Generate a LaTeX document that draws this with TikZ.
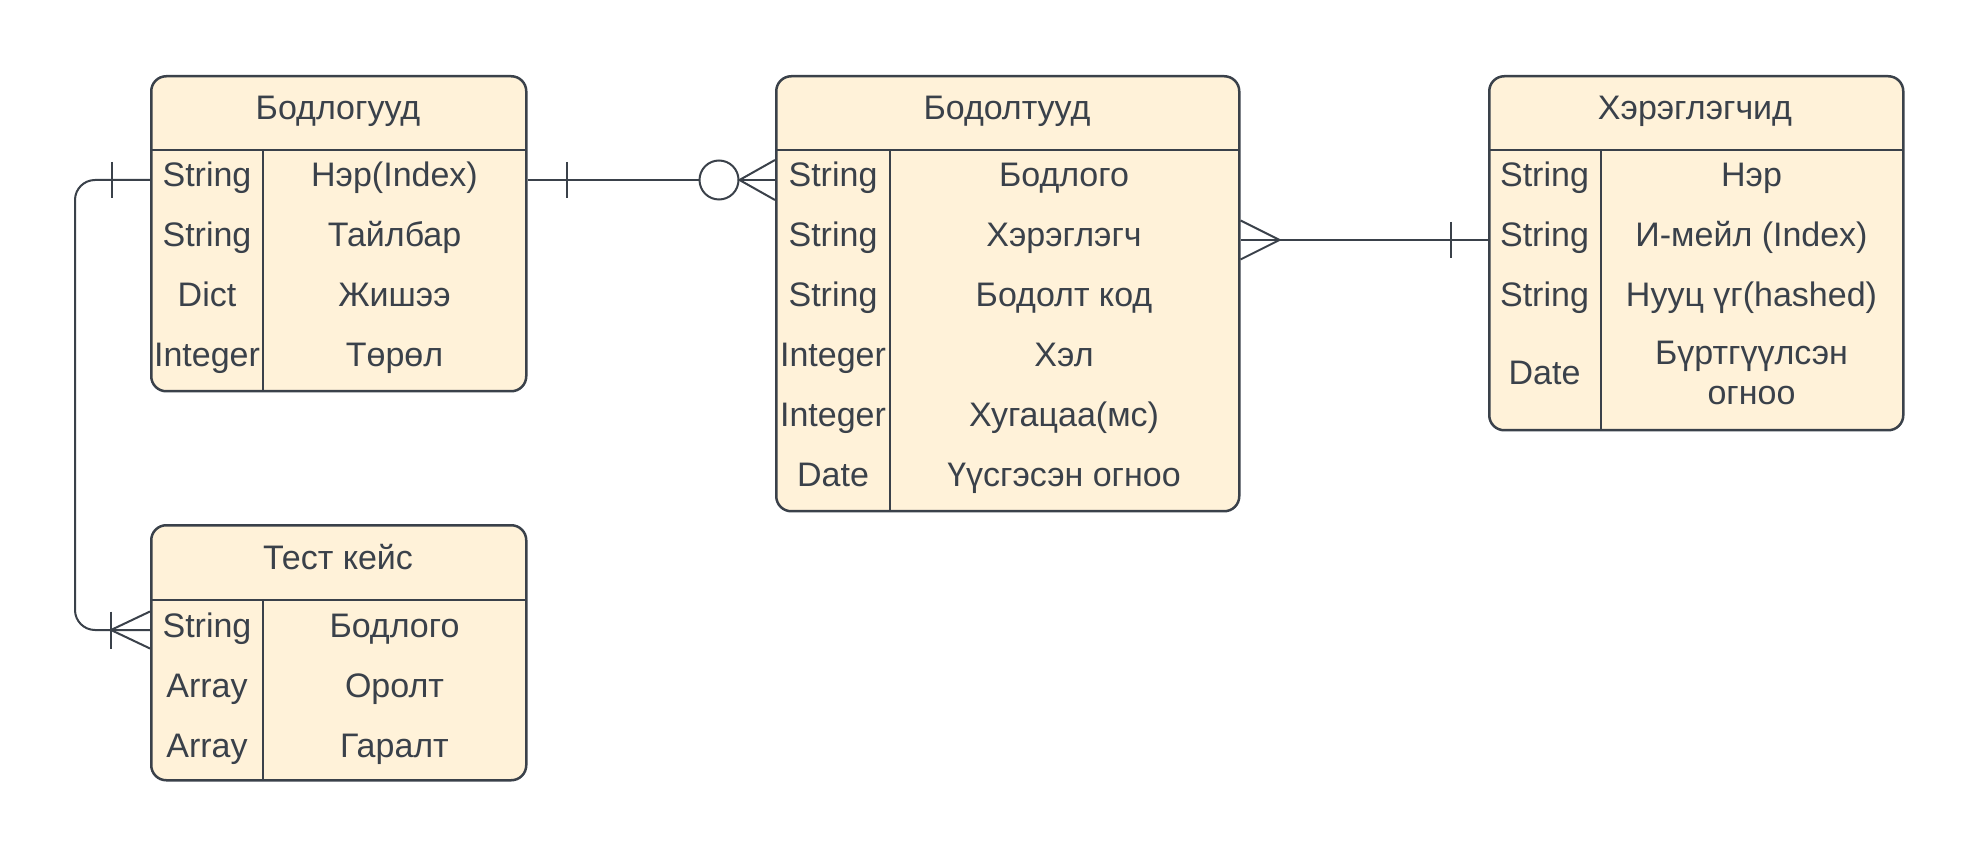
\documentclass[tikz,border=0pt]{standalone}
\usepackage{fontspec}
\setmainfont{Liberation Sans}
\definecolor{erdline}{HTML}{3A414A}
\definecolor{erdfill}{HTML}{FFF2D9}
\newcommand{\erdfont}{\fontsize{17pt}{20pt}\selectfont}
\begin{document}
\begin{tikzpicture}%
	[x=0.5pt, y=-0.5pt,
	entity/.style={draw=erdline, fill=erdfill, line width=1.25pt, rounded corners=7.5pt, inner sep=0pt, anchor=north west},
	headrule/.style={draw=erdline, line width=1.25pt},
	colrule/.style={draw=erdline, line width=0.6pt},
	entityname/.style={text=erdline, inner sep=0pt, anchor=base, font=\erdfont},
	field/.style={text=erdline, inner sep=0pt, text height=11.5pt, text depth=4.5pt, font=\erdfont},
	link/.style={draw=erdline, line width=1pt},
	zerocirc/.style={circle, draw=erdline, fill=white, line width=1pt, minimum size=19.5pt, inner sep=0pt}]
\useasboundingbox (0,0) rectangle (1976,855);
%%
%% Drawing the entities
%%
\node[entity, minimum width=187.5pt, minimum height=157.5pt] (bodlog) at (150,75) {};
\node[entity, minimum width=231.5pt, minimum height=217.5pt] (bodolt) at (775,75) {};
\node[entity, minimum width=207pt, minimum height=177pt] (hereglegch) at (1488,75) {};
\node[entity, minimum width=187.5pt, minimum height=127.5pt] (testkeis) at (150,524) {};
%%
%% Drawing the rules inside
%%
\draw[headrule] (150,150) -- (525,150);
\draw[colrule] (263,150) -- (263,390);
\draw[headrule] (775,150) -- (1238,150);
\draw[colrule] (890,150) -- (890,510);
\draw[headrule] (1488,150) -- (1902,150);
\draw[colrule] (1601,150) -- (1601,429);
\draw[headrule] (150,600) -- (525,600);
\draw[colrule] (263,600) -- (263,779);
%%
%% Бодлогууд
%%
\node[entityname] (bodlogname) at (338,120) {Бодлогууд};
\foreach \t/\n [count=\i] in {String/Нэр(Index), String/Тайлбар, Dict/Жишээ, Integer/Төрөл} {
	\node[field] (bty\i) at (207,120+60*\i) {\t};
	\node[field] (bnm\i) at (394.5,120+60*\i) {\n};
}
%%
%% Бодолтууд
%%
\node[entityname] (bodoltname) at (1007,120) {Бодолтууд};
\foreach \t/\n [count=\i] in {String/Бодлого, String/Хэрэглэгч, String/Бодолт код, Integer/Хэл, Integer/Хугацаа(мс), Date/Үүсгэсэн огноо} {
	\node[field] (oty\i) at (833,120+60*\i) {\t};
	\node[field] (onm\i) at (1064,120+60*\i) {\n};
}
%%
%% Хэрэглэгчид
%%
\node[entityname] (hername) at (1695,120) {Хэрэглэгчид};
\foreach \t/\n [count=\i] in {String/Нэр, String/И-мейл (Index), String/Нууц үг(hashed)} {
	\node[field] (hty\i) at (1544.5,120+60*\i) {\t};
	\node[field] (hnm\i) at (1751.5,120+60*\i) {\n};
}
\node[field] (hty4) at (1544.5,378) {Date};
\node[text=erdline, inner sep=0pt, font=\erdfont, align=center, anchor=north] (hnm4) at (1751.5,341) {Бүртгүүлсэн\\огноо};
%%
%% Тест кейс
%%
\node[entityname] (testname) at (338,569) {Тест кейс};
\foreach \t/\n [count=\i] in {String/Бодлого, Array/Оролт, Array/Гаралт} {
	\node[field] (tty\i) at (207,570+60*\i) {\t};
	\node[field] (tnm\i) at (394.5,570+60*\i) {\n};
}
%%
%% Drawing the relations
%%
\coordinate (l1a) at (bodlog.east |- bnm1);
\coordinate (l1b) at (bodolt.west |- onm1);
\node[zerocirc] (zc1) at (719,180) {};
\draw[link] (l1a) -- (zc1.west);
\draw[link] (zc1.east) -- (l1b);
\draw[link] ([yshift=10pt]l1b) -- (zc1.east) -- ([yshift=-10pt]l1b);
\draw[link] ([xshift=19.5pt,yshift=9pt]l1a) -- ([xshift=19.5pt,yshift=-9pt]l1a);
%%
\coordinate (l2a) at (bodolt.east |- onm2);
\coordinate (l2b) at (hereglegch.west |- hnm2);
\draw[link] (l2a) -- (l2b);
\draw[link] ([yshift=9.75pt]l2a) -- ([xshift=19.5pt]l2a) -- ([yshift=-9.75pt]l2a);
\draw[link] ([xshift=-18.5pt,yshift=9pt]l2b) -- ([xshift=-18.5pt,yshift=-9pt]l2b);
%%
\coordinate (l3a) at (bodlog.west |- bty1);
\coordinate (l3b) at (testkeis.west |- tty1);
\coordinate (spine) at (75,400);
\draw[link, rounded corners=10pt] (l3a) -| (spine) |- (l3b);
\draw[link] ([xshift=-19pt,yshift=9pt]l3a) -- ([xshift=-19pt,yshift=-9pt]l3a);
\draw[link] ([yshift=9.25pt]l3b) -- ([xshift=-19.5pt]l3b) -- ([yshift=-9.25pt]l3b);
\draw[link] ([xshift=-19.5pt,yshift=9.25pt]l3b) -- ([xshift=-19.5pt,yshift=-9.25pt]l3b);
%%
\end{tikzpicture}
\end{document}
